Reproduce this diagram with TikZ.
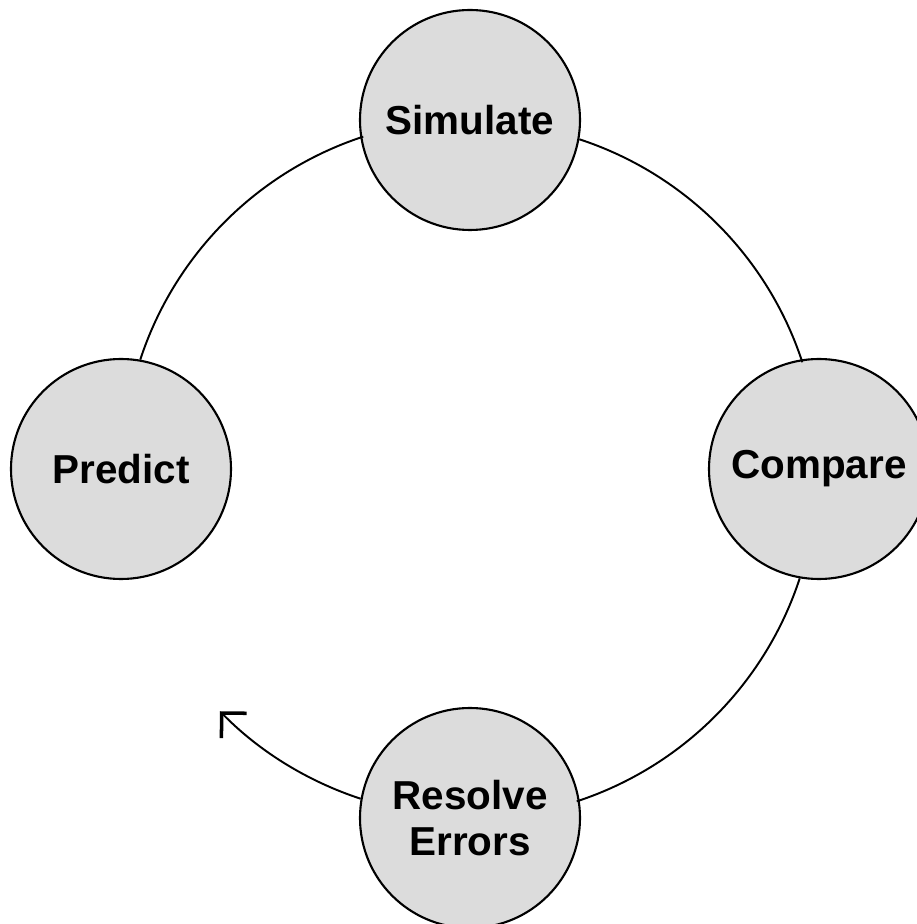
\documentclass[tikz,border=0pt]{standalone}
\usepackage{fontspec}
\setmainfont{Liberation Sans}
\usepackage{tikz}
\usetikzlibrary{arrows.meta}
\definecolor{stagegray}{RGB}{220,220,220}
\tikzset{
  stage/.style={circle, draw=black, fill=stagegray, line width=1.2pt, minimum size=4.4cm, inner sep=0pt, align=center, font=\bfseries\fontsize{23}{26}\selectfont},
  loopline/.style={line width=1.1pt, black},
  looparrow/.style={loopline, -{Straight Barb[angle=90:5mm, line width=2pt]}}
}
\begin{document}
\begin{tikzpicture}
  \useasboundingbox (-9.4,-9.1) rectangle (8.94,9.38);
  % the four stages on one ring of radius 6.98
  \node[stage] (sim)  at (0,6.98)  {Simulate};
  \node[stage] (pred) at (-6.98,0) {Predict};
  \node[stage] (comp) at (6.98,0)  {Compare};
  \node[stage] (res)  at (0,-6.98) {Resolve\\Errors};

  % ring segments between stages
  \draw[loopline] (pred.80.93) arc[start angle=161.86, end angle=108.14, radius=6.98];
  \draw[loopline] (sim.350.93) arc[start angle=71.86, end angle=18.14, radius=6.98];
  \draw[loopline] (comp.260.93) arc[start angle=-18.14, end angle=-71.86, radius=6.98];
  \draw[looparrow] (res.170.93) arc[start angle=251.86, end angle=224.4, radius=6.98];
\end{tikzpicture}
\end{document}
